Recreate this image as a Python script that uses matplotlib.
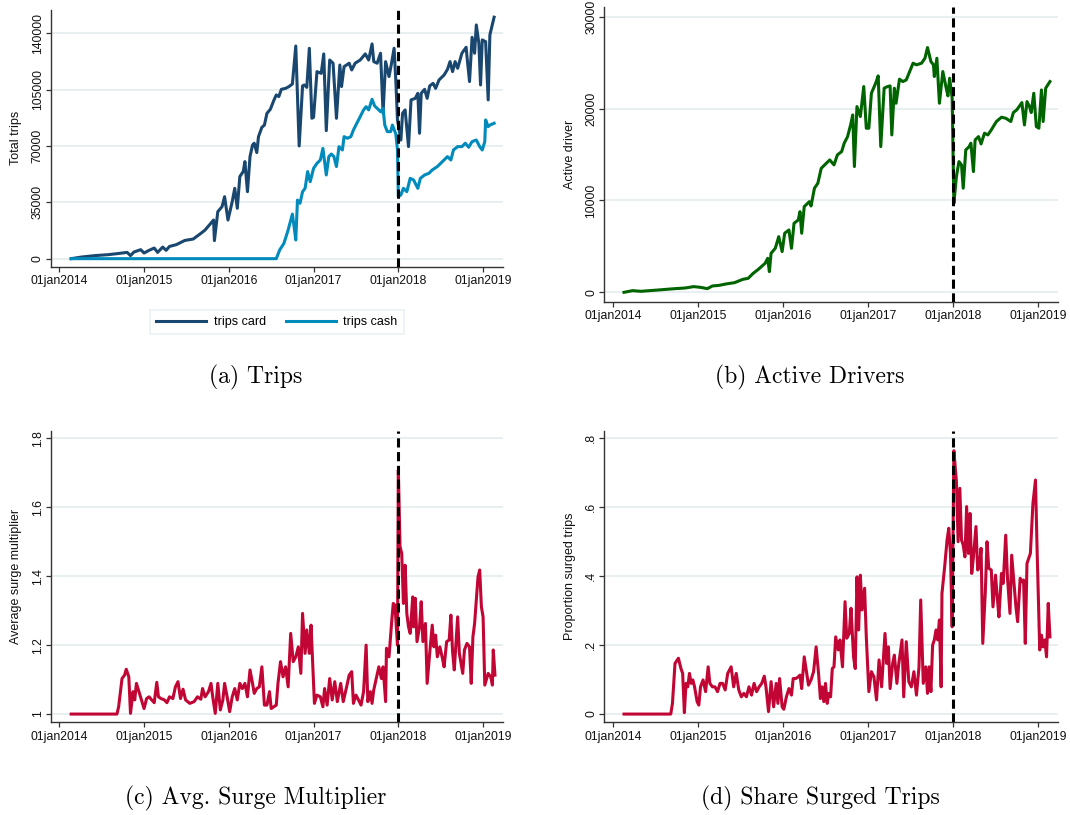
import matplotlib
matplotlib.use("Agg")
import matplotlib.pyplot as plt

plt.rcParams["font.family"] = ["Liberation Sans", "DejaVu Sans"]

# weekly series, dates as decimal years
card_t = [2014.14, 2014.26, 2014.42, 2014.58, 2014.68, 2014.80, 2014.84, 2014.88, 2014.96, 2015.00,
          2015.06, 2015.12, 2015.16, 2015.22, 2015.26, 2015.30, 2015.38, 2015.48, 2015.58, 2015.67,
          2015.72, 2015.82, 2015.83, 2015.87, 2015.92, 2015.95, 2015.99, 2016.04, 2016.07, 2016.10,
          2016.13, 2016.17, 2016.19, 2016.22, 2016.25, 2016.28, 2016.30, 2016.33, 2016.35, 2016.39,
          2016.42, 2016.45, 2016.49, 2016.53, 2016.56, 2016.59, 2016.62, 2016.67, 2016.71, 2016.75,
          2016.79, 2016.83, 2016.87, 2016.89, 2016.92, 2016.95, 2016.98, 2017.00, 2017.04, 2017.09,
          2017.12, 2017.15, 2017.19, 2017.23, 2017.27, 2017.31, 2017.33, 2017.36, 2017.42, 2017.45,
          2017.49, 2017.55, 2017.61, 2017.65, 2017.69, 2017.71, 2017.75, 2017.79, 2017.82, 2017.85,
          2017.89, 2017.92, 2017.95, 2017.97, 2017.99, 2018.03, 2018.05, 2018.08, 2018.12, 2018.15,
          2018.20, 2018.23, 2018.25, 2018.27, 2018.31, 2018.34, 2018.37, 2018.41, 2018.44, 2018.48,
          2018.54, 2018.58, 2018.61, 2018.64, 2018.67, 2018.70, 2018.75, 2018.80, 2018.81, 2018.84,
          2018.87, 2018.90, 2018.92, 2018.95, 2018.97, 2018.99, 2019.03, 2019.06, 2019.08, 2019.13]
card_v = [0, 1000, 1900, 2500, 3100, 3900, 1900, 4100, 5600, 3500,
          5200, 6600, 3900, 7200, 5200, 7600, 8700, 11300, 12200, 15700,
          17800, 24000, 11200, 29200, 32300, 38500, 24000, 35400, 43700, 31300,
          51000, 54100, 60300, 41600, 63400, 70600, 71700, 65900, 75800, 81600,
          83000, 90300, 92800, 98200, 101700, 100700, 105200, 105800, 106900, 108500,
          132100, 70000, 107300, 107900, 106400, 130700, 87200, 87800, 116200, 115100,
          127200, 79500, 123400, 121400, 87200, 120300, 106900, 119300, 121400, 117200,
          121400, 123400, 127200, 123400, 133400, 122400, 121400, 127600, 90300, 122400,
          113100, 121400, 130700, 111000, 86200, 73700, 90300, 92400, 69600, 98600,
          99600, 102700, 77900, 102700, 105200, 99600, 107300, 108900, 105800, 111000,
          114100, 117600, 122400, 116200, 122400, 118300, 127600, 131300, 125500, 110000,
          137500, 127600, 145200, 133800, 107900, 135900, 134800, 98600, 139000, 150000]

cash_t = [2014.14, 2016.56, 2016.60, 2016.65, 2016.70, 2016.75, 2016.77, 2016.79, 2016.81, 2016.84,
          2016.87, 2016.90, 2016.93, 2016.96, 2017.00, 2017.04, 2017.08, 2017.11, 2017.15, 2017.18,
          2017.21, 2017.24, 2017.27, 2017.30, 2017.34, 2017.36, 2017.40, 2017.44, 2017.47, 2017.51,
          2017.55, 2017.59, 2017.62, 2017.65, 2017.69, 2017.72, 2017.75, 2017.79, 2017.82, 2017.84,
          2017.87, 2017.91, 2017.93, 2017.97, 2017.99, 2018.00, 2018.03, 2018.06, 2018.10, 2018.14,
          2018.18, 2018.23, 2018.26, 2018.31, 2018.36, 2018.40, 2018.46, 2018.52, 2018.58, 2018.62,
          2018.65, 2018.70, 2018.75, 2018.79, 2018.83, 2018.87, 2018.92, 2018.96, 2018.99, 2019.02,
          2019.03, 2019.06, 2019.08, 2019.13]
cash_v = [0, 0, 5400, 9500, 17800, 27700, 19900, 11600, 36400, 34400,
          41600, 43700, 54100, 47800, 56100, 59200, 61300, 68500, 52000, 63400,
          65000, 63400, 57200, 69600, 67500, 75800, 74800, 75800, 79900, 84100,
          88200, 92400, 94400, 92400, 99000, 94900, 93400, 91300, 93400, 83000,
          78900, 78900, 83000, 77500, 67500, 38500, 39600, 43700, 41600, 49900,
          48900, 43700, 49900, 52000, 53000, 55100, 57200, 60300, 63400, 61300,
          67500, 69600, 69600, 71700, 69200, 72700, 73700, 69600, 67500, 72700,
          86200, 82000, 83000, 84100]

drv_t = [2014.13, 2014.23, 2014.33, 2014.53, 2014.73, 2014.85, 2014.95, 2015.03, 2015.11, 2015.17,
         2015.25, 2015.33, 2015.43, 2015.53, 2015.59, 2015.65, 2015.71, 2015.79, 2015.82, 2015.84,
         2015.86, 2015.91, 2015.95, 2015.99, 2016.02, 2016.07, 2016.10, 2016.13, 2016.18, 2016.20,
         2016.22, 2016.25, 2016.31, 2016.33, 2016.37, 2016.41, 2016.45, 2016.51, 2016.55, 2016.60,
         2016.64, 2016.69, 2016.72, 2016.76, 2016.80, 2016.82, 2016.84, 2016.87, 2016.91, 2016.95,
         2016.98, 2017.01, 2017.04, 2017.09, 2017.12, 2017.15, 2017.19, 2017.23, 2017.26, 2017.28,
         2017.31, 2017.33, 2017.37, 2017.41, 2017.45, 2017.49, 2017.53, 2017.57, 2017.63, 2017.67,
         2017.70, 2017.74, 2017.77, 2017.78, 2017.81, 2017.84, 2017.88, 2017.92, 2017.94, 2017.96,
         2017.99, 2018.01, 2018.04, 2018.07, 2018.10, 2018.12, 2018.15, 2018.19, 2018.21, 2018.24,
         2018.26, 2018.30, 2018.33, 2018.37, 2018.41, 2018.45, 2018.51, 2018.57, 2018.62, 2018.68,
         2018.71, 2018.75, 2018.81, 2018.84, 2018.87, 2018.90, 2018.92, 2018.95, 2018.98, 2019.01,
         2019.04, 2019.06, 2019.09, 2019.14]
drv_v = [0, 180, 110, 250, 400, 470, 620, 540, 400, 690,
         760, 910, 1050, 1420, 1520, 2070, 2500, 3160, 3700, 2250,
         4250, 4800, 6060, 4430, 6430, 6790, 4790, 7510, 7880, 8780,
         6430, 9330, 9870, 9400, 11330, 11870, 13500, 14050, 14410, 13870,
         14960, 15320, 16230, 16950, 18400, 19310, 13690, 20220, 19130, 22400,
         17860, 17860, 21670, 22760, 23560, 15860, 22220, 22400, 22470, 17130,
         22220, 20580, 23200, 22940, 23120, 24030, 24940, 24760, 24940, 25480,
         26640, 25120, 24760, 23490, 25480, 20580, 24030, 22220, 21380, 23300,
         21130, 9690, 12600, 14230, 13870, 11330, 15500, 15860, 16230, 13140,
         16590, 16950, 16150, 17320, 17130, 17680, 18590, 19060, 18950, 18590,
         19570, 19860, 20650, 18220, 20760, 20220, 19570, 21670, 18040, 17860,
         22030, 18590, 22220, 22940]

surge_t = [2014.14, 2014.68, 2014.70, 2014.74, 2014.77, 2014.79, 2014.82, 2014.84, 2014.87, 2014.89,
           2014.91, 2014.94, 2014.97, 2015.00, 2015.03, 2015.06, 2015.09, 2015.12, 2015.15, 2015.17,
           2015.20, 2015.24, 2015.27, 2015.30, 2015.34, 2015.37, 2015.40, 2015.43, 2015.46, 2015.49,
           2015.54, 2015.59, 2015.63, 2015.67, 2015.69, 2015.72, 2015.76, 2015.79, 2015.81, 2015.84,
           2015.87, 2015.90, 2015.93, 2015.95, 2015.98, 2016.01, 2016.04, 2016.07, 2016.10, 2016.13,
           2016.16, 2016.19, 2016.22, 2016.25, 2016.28, 2016.30, 2016.33, 2016.36, 2016.39, 2016.42,
           2016.45, 2016.48, 2016.50, 2016.53, 2016.56, 2016.58, 2016.61, 2016.64, 2016.67, 2016.70,
           2016.73, 2016.76, 2016.79, 2016.82, 2016.85, 2016.87, 2016.90, 2016.92, 2016.95, 2016.97,
           2017.01, 2017.04, 2017.08, 2017.11, 2017.13, 2017.16, 2017.19, 2017.22, 2017.25, 2017.28,
           2017.32, 2017.35, 2017.39, 2017.42, 2017.45, 2017.47, 2017.50, 2017.53, 2017.56, 2017.59,
           2017.62, 2017.64, 2017.67, 2017.69, 2017.71, 2017.74, 2017.77, 2017.80, 2017.82, 2017.85,
           2017.86, 2017.89, 2017.92, 2017.94, 2017.96, 2017.99, 2018.00, 2018.02, 2018.04, 2018.06,
           2018.08, 2018.10, 2018.12, 2018.14, 2018.17, 2018.18, 2018.20, 2018.22, 2018.25, 2018.27,
           2018.29, 2018.32, 2018.34, 2018.37, 2018.40, 2018.42, 2018.44, 2018.46, 2018.49, 2018.52,
           2018.54, 2018.57, 2018.60, 2018.62, 2018.64, 2018.66, 2018.70, 2018.72, 2018.76, 2018.78,
           2018.81, 2018.84, 2018.86, 2018.88, 2018.90, 2018.94, 2018.96, 2018.98, 2019.00, 2019.02,
           2019.06, 2019.09, 2019.11, 2019.12, 2019.14]
surge_v = [1.0, 1.0, 1.021, 1.103, 1.113, 1.130, 1.108, 1.002, 1.065, 1.041,
           1.089, 1.065, 1.041, 1.016, 1.045, 1.050, 1.041, 1.033, 1.092, 1.050,
           1.045, 1.041, 1.033, 1.050, 1.045, 1.079, 1.094, 1.045, 1.072, 1.041,
           1.031, 1.036, 1.050, 1.043, 1.074, 1.050, 1.065, 1.089, 1.050, 1.002,
           1.089, 1.012, 1.041, 1.089, 1.050, 1.007, 1.050, 1.074, 1.041, 1.089,
           1.074, 1.089, 1.050, 1.128, 1.089, 1.060, 1.074, 1.079, 1.137, 1.026,
           1.026, 1.065, 1.016, 1.021, 1.026, 1.089, 1.152, 1.108, 1.137, 1.079,
           1.234, 1.152, 1.166, 1.195, 1.118, 1.292, 1.176, 1.244, 1.176, 1.258,
           1.031, 1.055, 1.050, 1.021, 1.074, 1.026, 1.103, 1.041, 1.094, 1.036,
           1.089, 1.036, 1.079, 1.113, 1.123, 1.031, 1.055, 1.041, 1.026, 1.065,
           1.200, 1.036, 1.065, 1.031, 1.070, 1.103, 1.137, 1.103, 1.137, 1.036,
           1.191, 1.166, 1.263, 1.321, 1.316, 1.200, 1.708, 1.486, 1.466, 1.321,
           1.432, 1.292, 1.253, 1.234, 1.340, 1.253, 1.336, 1.210, 1.253, 1.326,
           1.210, 1.263, 1.089, 1.176, 1.258, 1.195, 1.229, 1.166, 1.195, 1.162,
           1.137, 1.210, 1.215, 1.287, 1.181, 1.128, 1.282, 1.176, 1.118, 1.186,
           1.205, 1.195, 1.089, 1.224, 1.263, 1.398, 1.418, 1.311, 1.282, 1.084,
           1.118, 1.108, 1.084, 1.186, 1.113]

share_t = [2014.13, 2014.68, 2014.70, 2014.73, 2014.77, 2014.80, 2014.82, 2014.84, 2014.86, 2014.88,
           2014.90, 2014.92, 2014.94, 2014.96, 2014.99, 2015.01, 2015.03, 2015.06, 2015.09, 2015.12,
           2015.14, 2015.17, 2015.20, 2015.23, 2015.26, 2015.29, 2015.32, 2015.35, 2015.39, 2015.42,
           2015.45, 2015.48, 2015.51, 2015.54, 2015.57, 2015.60, 2015.63, 2015.66, 2015.69, 2015.72,
           2015.75, 2015.78, 2015.80, 2015.83, 2015.86, 2015.89, 2015.92, 2015.94, 2015.96, 2015.99,
           2016.01, 2016.04, 2016.07, 2016.10, 2016.12, 2016.15, 2016.18, 2016.20, 2016.22, 2016.25,
           2016.28, 2016.30, 2016.33, 2016.36, 2016.39, 2016.42, 2016.44, 2016.46, 2016.48, 2016.50,
           2016.52, 2016.54, 2016.56, 2016.58, 2016.60, 2016.62, 2016.65, 2016.67, 2016.70, 2016.73,
           2016.75, 2016.78, 2016.80, 2016.83, 2016.85, 2016.87, 2016.89, 2016.91, 2016.93, 2016.96,
           2016.98, 2017.01, 2017.04, 2017.07, 2017.10, 2017.13, 2017.16, 2017.20, 2017.22, 2017.24,
           2017.26, 2017.29, 2017.31, 2017.34, 2017.36, 2017.40, 2017.42, 2017.45, 2017.48, 2017.51,
           2017.54, 2017.57, 2017.60, 2017.62, 2017.65, 2017.68, 2017.70, 2017.72, 2017.74, 2017.76,
           2017.78, 2017.80, 2017.82, 2017.84, 2017.86, 2017.87, 2017.90, 2017.93, 2017.95, 2017.97,
           2017.99, 2018.01, 2018.04, 2018.06, 2018.08, 2018.10, 2018.12, 2018.14, 2018.16, 2018.18,
           2018.20, 2018.22, 2018.24, 2018.27, 2018.29, 2018.31, 2018.33, 2018.35, 2018.38, 2018.40,
           2018.42, 2018.45, 2018.47, 2018.50, 2018.52, 2018.54, 2018.57, 2018.59, 2018.62, 2018.64,
           2018.67, 2018.69, 2018.72, 2018.74, 2018.76, 2018.79, 2018.81, 2018.83, 2018.85, 2018.87,
           2018.91, 2018.94, 2018.97, 2018.99, 2019.02, 2019.04, 2019.06, 2019.08, 2019.10, 2019.12,
           2019.14]
share_v = [0, 0, 0.031, 0.147, 0.162, 0.132, 0.118, 0.004, 0.089, 0.079,
           0.118, 0.089, 0.099, 0.079, 0.036, 0.026, 0.079, 0.099, 0.065, 0.137,
           0.089, 0.079, 0.079, 0.065, 0.089, 0.089, 0.070, 0.118, 0.137, 0.079,
           0.118, 0.070, 0.050, 0.060, 0.050, 0.079, 0.055, 0.089, 0.065, 0.079,
           0.089, 0.110, 0.079, 0.007, 0.094, 0.021, 0.089, 0.031, 0.103, 0.021,
           0.014, 0.050, 0.074, 0.055, 0.103, 0.103, 0.108, 0.113, 0.074, 0.166,
           0.118, 0.084, 0.099, 0.123, 0.195, 0.113, 0.045, 0.079, 0.036, 0.089,
           0.031, 0.060, 0.050, 0.132, 0.137, 0.224, 0.186, 0.215, 0.137, 0.326,
           0.220, 0.234, 0.307, 0.166, 0.132, 0.398, 0.244, 0.403, 0.302, 0.365,
           0.224, 0.065, 0.123, 0.108, 0.041, 0.157, 0.079, 0.234, 0.147, 0.195,
           0.074, 0.147, 0.171, 0.089, 0.142, 0.215, 0.050, 0.210, 0.094, 0.079,
           0.123, 0.055, 0.137, 0.331, 0.089, 0.137, 0.060, 0.137, 0.065, 0.200,
           0.215, 0.244, 0.215, 0.273, 0.079, 0.350, 0.423, 0.505, 0.539, 0.466,
           0.253, 0.764, 0.674, 0.500, 0.655, 0.505, 0.490, 0.456, 0.602, 0.466,
           0.582, 0.408, 0.456, 0.544, 0.418, 0.427, 0.481, 0.205, 0.355, 0.500,
           0.423, 0.418, 0.311, 0.403, 0.340, 0.282, 0.408, 0.379, 0.519, 0.398,
           0.292, 0.461, 0.369, 0.311, 0.268, 0.394, 0.384, 0.389, 0.205, 0.437,
           0.466, 0.611, 0.679, 0.466, 0.186, 0.229, 0.195, 0.215, 0.166, 0.321,
           0.224]

year_ticks = [2014, 2015, 2016, 2017, 2018, 2019]
year_labels = ["01jan2014", "01jan2015", "01jan2016", "01jan2017", "01jan2018", "01jan2019"]
policy_date = 2018.0

NAVY = "#1a476f"
EBBLUE = "#008bbc"
DKGREEN = "#006400"
CRANBERRY = "#c10534"
GRID = "#e6eef0"
AXIS = "#333333"

fig = plt.figure(figsize=(10.7, 8.15), dpi=100)
ax_a = fig.add_axes([0.0475, 0.6728, 0.4226, 0.315])
ax_b = fig.add_axes([0.5649, 0.6298, 0.4239, 0.3612])
ax_c = fig.add_axes([0.0475, 0.1137, 0.4226, 0.3578])
ax_d = fig.add_axes([0.5649, 0.1137, 0.4239, 0.3578])


def style(ax, yticks, ylabels, ylim, ylabel, lab_x):
    ax.set_xlim(2013.9, 2019.235)
    ax.set_ylim(*ylim)
    ax.set_xticks(year_ticks)
    ax.set_xticklabels(year_labels)
    ax.set_yticks(yticks)
    ax.set_yticklabels(ylabels, rotation=90, va="center")
    ax.grid(axis="y", color=GRID, lw=1.3)
    ax.set_axisbelow(True)
    for s in ("top", "right"):
        ax.spines[s].set_visible(False)
    for s in ("left", "bottom"):
        ax.spines[s].set_color(AXIS)
        ax.spines[s].set_linewidth(1.0)
    ax.tick_params(axis="both", length=3.6, width=0.9, color=AXIS, labelsize=8.8, labelcolor="#111111")
    ax.tick_params(axis="y", pad=1.5)
    ax.tick_params(axis="x", pad=2.5)
    ax.set_ylabel(ylabel, fontsize=9, color="#111111")
    ax.yaxis.set_label_coords(lab_x, 0.5)
    ax.axvline(policy_date, color="black", lw=2.2, ls=(0, (3, 1.5)), zorder=4)


ax_a.plot(card_t, card_v, color=NAVY, lw=2.2, label="trips card")
ax_a.plot(cash_t, cash_v, color=EBBLUE, lw=2.2, label="trips cash")
style(ax_a, [0, 35000, 70000, 105000, 140000], ["0", "35000", "70000", "105000", "140000"],
      (-4970, 154500), "Total trips", -0.0633)

ax_b.plot(drv_t, drv_v, color=DKGREEN, lw=2.2)
style(ax_b, [0, 10000, 20000, 30000], ["0", "10000", "20000", "30000"],
      (-1023, 31020), "Active driver", -0.0626)

ax_c.plot(surge_t, surge_v, color=CRANBERRY, lw=2.2)
style(ax_c, [1, 1.2, 1.4, 1.6, 1.8], ["1", "1.2", "1.4", "1.6", "1.8"],
      (0.976, 1.822), "Average surge multiplier", -0.0633)

ax_d.plot(share_t, share_v, color=CRANBERRY, lw=2.2)
style(ax_d, [0, 0.2, 0.4, 0.6, 0.8], ["0", ".2", ".4", ".6", ".8"],
      (-0.024, 0.822), "Proportion surged trips", -0.0626)

h, l = ax_a.get_legend_handles_labels()
leg = fig.legend(h, l, loc="center", bbox_to_anchor=(277 / 1070, 1 - 322 / 815), ncol=2,
                 frameon=True, fancybox=False, edgecolor=GRID, fontsize=9,
                 handlelength=4, handletextpad=0.6, columnspacing=1.6, borderpad=0.5)
leg.get_frame().set_linewidth(1.2)

cap = dict(ha="center", va="center", family="cmr10", fontsize=17)
fig.text(256 / 1070, 1 - 377 / 815, "(a) Trips", **cap)
fig.text(810 / 1070, 1 - 377 / 815, "(b) Active Drivers", **cap)
fig.text(256 / 1070, 1 - 798 / 815, "(c) Avg. Surge Multiplier", **cap)
fig.text(820 / 1070, 1 - 798 / 815, "(d) Share Surged Trips", **cap)

fig.savefig("out.png", dpi=100)
